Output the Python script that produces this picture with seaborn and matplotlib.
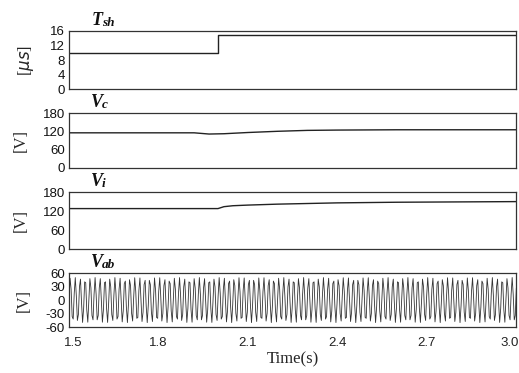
import numpy as np
import pandas as pd
import matplotlib
matplotlib.use("Agg")
import matplotlib.pyplot as plt
import matplotlib.transforms as mtrans
import seaborn as sns

# ---- data ----
tsh_time = [1.5, 2.0, 2.0, 3.0]
tsh_vals = [10, 10, 15, 15]

vc_time = [1.5, 1.92, 1.97, 2.02, 2.1, 2.2, 2.3, 2.4, 2.6, 2.8, 3.0]
vc_vals = [115, 115, 111, 112, 116, 120, 123, 124, 125, 125, 125]

vi_time = [1.5, 2.0, 2.02, 2.05, 2.1, 2.2, 2.3, 2.4, 2.6, 2.8, 3.0]
vi_vals = [128, 128, 134, 137, 139, 142, 144, 146, 148, 149, 150]

vab_amplitude = 50.0   # V, read from the peaks
vab_freq = 60.0        # Hz
vab_step = 0.0035      # s, coarse sampling of the recorded waveform

x_ticks = [1.5, 1.8, 2.1, 2.4, 2.7, 3.0]
x_ticklabels = ["1.5", "1.8", "2.1", "2.4", "2.7", "3.0"]
tsh_ticks = [0, 4, 8, 12, 16]
v_ticks = [0, 60, 120, 180]
vab_ticks = [-60, -30, 0, 30, 60]

sns.set_theme(style="white")
plt.rcParams['font.family'] = ['Liberation Sans', 'DejaVu Sans']

fig = plt.figure(figsize=(5.19, 3.73), dpi=100)
L, W = 0.133, 0.861
boxes = [(0.761, 0.156), (0.550, 0.147), (0.332, 0.153), (0.123, 0.145)]
axes = [fig.add_axes([L, b, W, h]) for b, h in boxes]

lc = "#222222"
tsh_df = pd.DataFrame({"t": tsh_time, "v": tsh_vals})
vc_df = pd.DataFrame({"t": vc_time, "v": vc_vals})
vi_df = pd.DataFrame({"t": vi_time, "v": vi_vals})
t = np.arange(1.5, 3.0 + vab_step / 2, vab_step)
vab_df = pd.DataFrame({"t": t, "v": vab_amplitude * np.sin(2 * np.pi * vab_freq * t)})

sns.lineplot(data=tsh_df, x="t", y="v", ax=axes[0], color=lc, lw=1.0, sort=False, estimator=None)
sns.lineplot(data=vc_df, x="t", y="v", ax=axes[1], color=lc, lw=1.0, estimator=None)
sns.lineplot(data=vi_df, x="t", y="v", ax=axes[2], color=lc, lw=1.0, estimator=None)
sns.lineplot(data=vab_df, x="t", y="v", ax=axes[3], color="#333333", lw=0.6, estimator=None)

ylims = [(0, 16), (0, 180), (0, 180), (-60, 60)]
yticks = [tsh_ticks, v_ticks, v_ticks, vab_ticks]
ylabels = ["[$\\mu s$]", "[V]", "[V]", "[V]"]
titles = [("T", "sh"), ("V", "c"), ("V", "i"), ("V", "ab")]

for i, ax in enumerate(axes):
    ax.set_xlim(1.5, 3.0)
    ax.set_ylim(*ylims[i])
    ax.set_yticks(yticks[i])
    ax.set_yticklabels([str(v) for v in yticks[i]], fontsize=9.5)
    ax.set_xticks(x_ticks)
    if i == 3:
        ax.set_xticklabels(x_ticklabels, fontsize=9.5)
    else:
        ax.set_xticklabels([])
    ax.tick_params(direction="in", length=2.5, width=0.6, pad=3, colors="#222222")
    ax.tick_params(axis="x", pad=7)
    ax.tick_params(axis="y", labelcolor="#111111")
    ax.set_xlabel("")
    ax.set_ylabel(ylabels[i], fontsize=12, family="Liberation Serif", labelpad=10)
    for s in ax.spines.values():
        s.set_color("#333333")
        s.set_linewidth(0.9)
    ax.text(0.05, 1.03, titles[i][0], transform=ax.transAxes, fontsize=13,
            fontweight="bold", fontstyle="italic", family="Liberation Serif",
            ha="left", va="bottom", color="#111111")
    ax.text(0.05 + 0.024, 1.03, titles[i][1], transform=ax.transAxes, fontsize=9.5,
            fontweight="bold", fontstyle="italic", family="Liberation Serif",
            ha="left", va="bottom", color="#111111")

labs = axes[3].get_xticklabels()
labs[-1].set_ha("right")
labs[-1].set_transform(labs[-1].get_transform() + mtrans.ScaledTranslation(2 / 72, 0, fig.dpi_scale_trans))
labs[0].set_transform(labs[0].get_transform() + mtrans.ScaledTranslation(3 / 72, 0, fig.dpi_scale_trans))

axes[3].set_xlabel("Time(s)", fontsize=12, family="Liberation Serif", labelpad=2)

fig.savefig("out.png", dpi=100, facecolor="white")
